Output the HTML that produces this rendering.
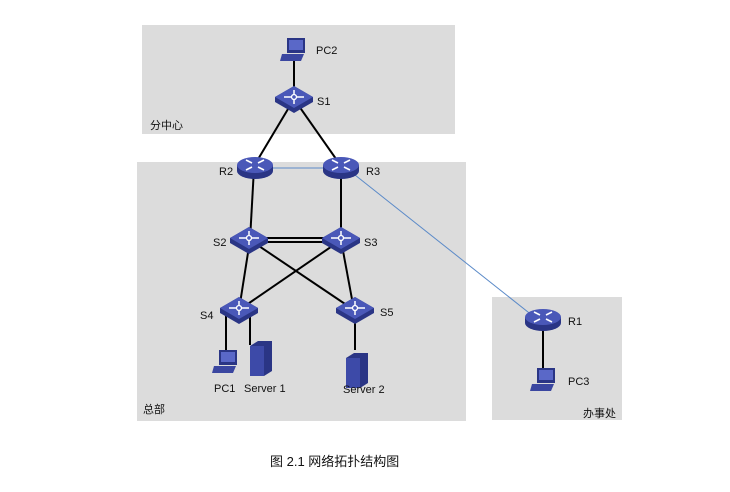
<!DOCTYPE html>
<html><head><meta charset="utf-8"><style>
body{margin:0;background:#fff;width:730px;height:487px;overflow:hidden}
text{font-family:"Liberation Sans","Noto Sans CJK SC",sans-serif;font-size:11px;fill:#111}
</style></head><body>
<svg width="730" height="487" viewBox="0 0 730 487">
<defs>
<g id="rt">
<path d="M-18,0 v6 a18,8 0 0 0 36,0 v-6 z" fill="#2a3585"/>
<ellipse cx="0" cy="0" rx="18" ry="8" fill="#4a58b8"/>
<g stroke="#fff" stroke-width="1.6" fill="none">
<path d="M-9,-5 l6,3 M9,-5 l-6,3 M-9,5 l6,-3 M9,5 l-6,-3"/>
</g>
</g>
<g id="sw">
<path d="M-19,0 l19,-11 l19,11 v5 l-19,11 l-19,-11 z" fill="#2a3585"/>
<path d="M-19,0 l19,-11 l19,11 l-19,11 z" fill="#4a58b8"/>
<circle cx="0" cy="0" r="2.5" fill="none" stroke="#fff" stroke-width="1.3"/>
<path d="M-10,0 h7 M3,0 h7 M0,-7 v4 M0,3 v4" stroke="#fff" stroke-width="1.5"/>
</g>
<g id="pc">
<rect x="-7" y="-12" width="18" height="15" fill="#2a3585"/>
<rect x="-5" y="-10" width="14" height="10" fill="#5a68c8"/>
<path d="M-12,4 h22 l-3,7 h-21 z" fill="#3a46a0"/>
</g>
<g id="srv">
<path d="M-12,-12 l8,-5 h14 v30 l-8,5 h-14 z" fill="#2a3585"/>
<rect x="-12" y="-12" width="14" height="30" fill="#3d4aa8"/>
</g>
</defs>
<rect x="142" y="25" width="313" height="109" fill="#dcdcdc"/>
<rect x="137" y="162" width="329" height="259" fill="#dcdcdc"/>
<rect x="492" y="297" width="130" height="123" fill="#dcdcdc"/>
<g stroke="#000" stroke-width="2" fill="none">
<line x1="294" y1="55" x2="294" y2="95"/>
<line x1="294" y1="99" x2="254" y2="166"/>
<line x1="294" y1="99" x2="341" y2="166"/>
<line x1="254" y1="168" x2="250" y2="240"/>
<line x1="341" y1="168" x2="341" y2="240"/>
<line x1="250" y1="238" x2="341" y2="238"/>
<line x1="250" y1="242" x2="341" y2="242"/>
<line x1="250" y1="240" x2="239" y2="310"/>
<line x1="250" y1="240" x2="354" y2="310"/>
<line x1="341" y1="240" x2="239" y2="310"/>
<line x1="341" y1="240" x2="354" y2="310"/>
<line x1="226" y1="310" x2="226" y2="352"/>
<line x1="250" y1="310" x2="250" y2="345"/>
<line x1="355" y1="310" x2="355" y2="350"/>
<line x1="543" y1="320" x2="543" y2="372"/>
</g>
<line x1="268" y1="168" x2="326" y2="168" stroke="#5b8ac8" stroke-width="1"/>
<line x1="355" y1="175" x2="533" y2="316" stroke="#5b8ac8" stroke-width="1"/>
<use href="#pc" x="294" y="50"/>
<use href="#sw" x="294" y="97"/>
<use href="#rt" x="255" y="165"/>
<use href="#rt" x="341" y="165"/>
<use href="#sw" x="249" y="238"/>
<use href="#sw" x="341" y="238"/>
<use href="#sw" x="239" y="308"/>
<use href="#sw" x="355" y="308"/>
<use href="#pc" x="226" y="362"/>
<use href="#srv" x="262" y="358"/>
<use href="#srv" x="358" y="370"/>
<use href="#rt" x="543" y="317"/>
<use href="#pc" x="544" y="380"/>
<text x="316" y="54">PC2</text>
<text x="317" y="105">S1</text>
<text x="150" y="129">分中心</text>
<text x="219" y="175">R2</text>
<text x="366" y="175">R3</text>
<text x="213" y="246">S2</text>
<text x="364" y="246">S3</text>
<text x="200" y="319">S4</text>
<text x="380" y="316">S5</text>
<text x="214" y="392">PC1</text>
<text x="244" y="392">Server 1</text>
<text x="343" y="393">Server 2</text>
<text x="143" y="413">总部</text>
<text x="568" y="325">R1</text>
<text x="568" y="385">PC3</text>
<text x="583" y="417">办事处</text>
<text x="270" y="466" style="font-size:13px">图 2.1  网络拓扑结构图</text>
</svg>
</body></html>
